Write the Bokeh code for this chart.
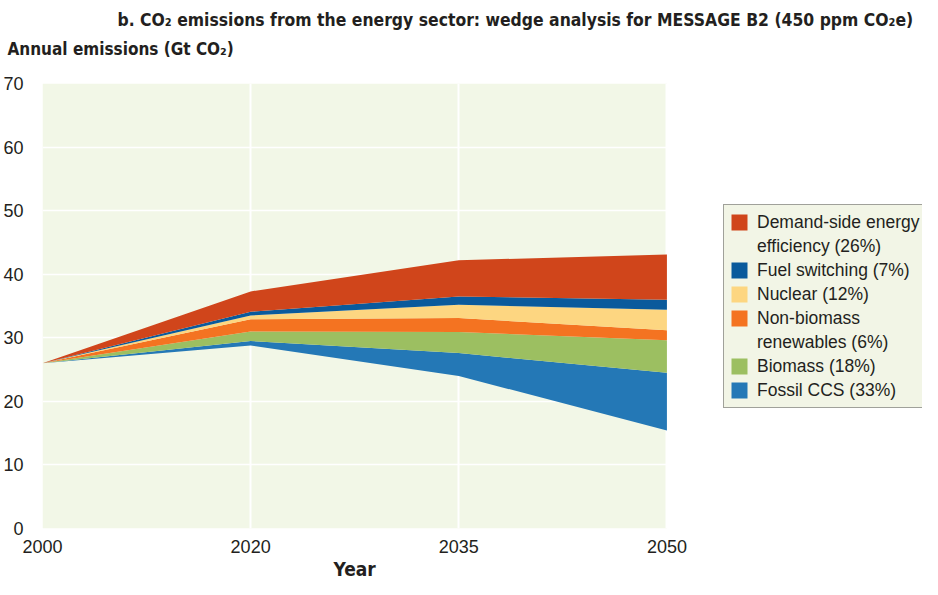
from bokeh.plotting import figure
from bokeh.models import (ColumnDataSource, Range1d, FixedTicker, Legend, LegendItem, Title)
from bokeh.transform import stack
from bokeh.embed import file_html
from bokeh.resources import INLINE

# ---- data (Gt CO2) ----
years = ["2000", "2020", "2035", "2050"]
baseline = [26.0, 28.8, 24.0, 15.4]      # remaining emissions
fossil_ccs = [0.0, 0.7, 3.6, 9.1]
biomass = [0.0, 1.5, 3.3, 5.1]
non_bio_renew = [0.0, 1.9, 2.2, 1.6]
nuclear = [0.0, 0.6, 2.1, 3.2]
fuel_switch = [0.0, 0.6, 1.3, 1.6]
demand_side = [0.0, 3.2, 5.7, 7.1]
y_ticks = [0, 10, 20, 30, 40, 50, 60, 70]

labels = ["Fossil CCS (33%)", "Biomass (18%)", "Non-biomass\nrenewables (6%)",
          "Nuclear (12%)", "Fuel switching (7%)", "Demand-side energy\nefficiency (26%)"]
keys = ["ccs", "bio", "renew", "nuc", "fuel", "dsm"]
colors = ["#2478B6", "#9CBF61", "#F47321", "#FDD681", "#0A5A9C", "#D0451B"]

FONT = "Liberation Sans"
TFONT = "DejaVu Sans Condensed"
BG = "#F2F7E7"
INK = "#231F20"

pos = list(range(len(years)))
src = ColumnDataSource(dict(x=pos, base=baseline, ccs=fossil_ccs, bio=biomass,
                            renew=non_bio_renew, nuc=nuclear, fuel=fuel_switch,
                            dsm=demand_side))

# layout (canvas pixels)
W, H = 922, 579
LEFT, CHART_RIGHT, FRAME_RIGHT = 35, 658, 913
x_end = (len(years) - 1) * (FRAME_RIGHT - LEFT) / (CHART_RIGHT - LEFT)  # frame runs past the chart

p = figure(width=W, height=H, output_backend="svg", toolbar_location=None,
           x_range=Range1d(0, x_end), y_range=Range1d(0, y_ticks[-1]),
           min_border_left=LEFT, min_border_right=0, min_border_top=0,
           min_border_bottom=0)
p.background_fill_color = "white"
p.border_fill_color = "white"
p.outline_line_color = None

# chart background panel (behind grid)
p.quad(left=pos[0], right=pos[-1], bottom=y_ticks[0], top=y_ticks[-1],
       fill_color=BG, line_color=None, level="image")

renderers = []
prev = ["base"]
for k, c in zip(keys, colors):
    r = p.varea(x="x", y1=stack(*prev), y2=stack(*(prev + [k])), source=src,
                fill_color=c, fill_alpha=1.0)
    renderers.append(r)
    prev = prev + [k]
blank = p.scatter(x=[], y=[], size=0, fill_alpha=0, line_alpha=0)

# axes
p.xaxis.ticker = FixedTicker(ticks=pos)
p.xaxis.major_label_overrides = {i: y for i, y in zip(pos, years)}
p.yaxis.ticker = FixedTicker(ticks=y_ticks)
for ax in (p.xaxis[0], p.yaxis[0]):
    ax.axis_line_color = None
    ax.major_tick_line_color = None
    ax.minor_tick_line_color = None
    ax.major_tick_out = 0
    ax.major_tick_in = 0
    ax.minor_tick_out = 0
    ax.major_label_text_font = FONT
    ax.major_label_text_font_size = "18px"
    ax.major_label_text_color = INK
p.yaxis.major_label_standoff = 19
p.xaxis.major_label_standoff = 11

p.xgrid.grid_line_color = "white"
p.xgrid.grid_line_width = 2
p.ygrid.grid_line_color = "white"
p.ygrid.grid_line_width = 1.5

# titles (nearest the frame first)
spacer = Title(text=" ", text_font_size="1px", standoff=22)
t_annual = Title(text="Annual emissions (Gt CO\u2082)", align="left", offset=-LEFT,
                 text_font=TFONT, text_font_style="bold", text_font_size="17px",
                 text_color=INK, standoff=0)
t_main = Title(text="b. CO\u2082 emissions from the energy sector: wedge analysis for MESSAGE B2 (450 ppm CO\u2082e)",
               align="left", offset=75, text_font=TFONT, text_font_style="bold",
               text_font_size="17.4px", text_color=INK, standoff=14)
p.add_layout(spacer, "above")
p.add_layout(t_annual, "above")
p.add_layout(t_main, "above")
t_year = Title(text="Year", align="left", offset=291, text_font=TFONT,
               text_font_style="bold", text_font_size="19px", text_color=INK, standoff=0)
p.add_layout(t_year, "below")

# legend: one row per text line, swatch on the first line of each entry
items = []
for lab, r in list(zip(labels, renderers))[::-1]:
    lines = lab.split("\n")
    items.append(LegendItem(label=lines[0], renderers=[r]))
    for extra in lines[1:]:
        items.append(LegendItem(label=extra, renderers=[blank]))
leg = Legend(items=items, location=(681, 120), orientation="vertical",
             label_text_font=FONT, label_text_font_size="17.5px",
             label_text_color=INK, glyph_width=20, glyph_height=20, label_height=24,
             label_width=160, label_standoff=8, spacing=0, padding=5, margin=0,
             border_line_color="#4D4D4D", border_line_width=1.5,
             background_fill_color="#F2F5E6", background_fill_alpha=1.0)
p.add_layout(leg, "center")

open("out.html", "w").write(file_html(p, INLINE))
